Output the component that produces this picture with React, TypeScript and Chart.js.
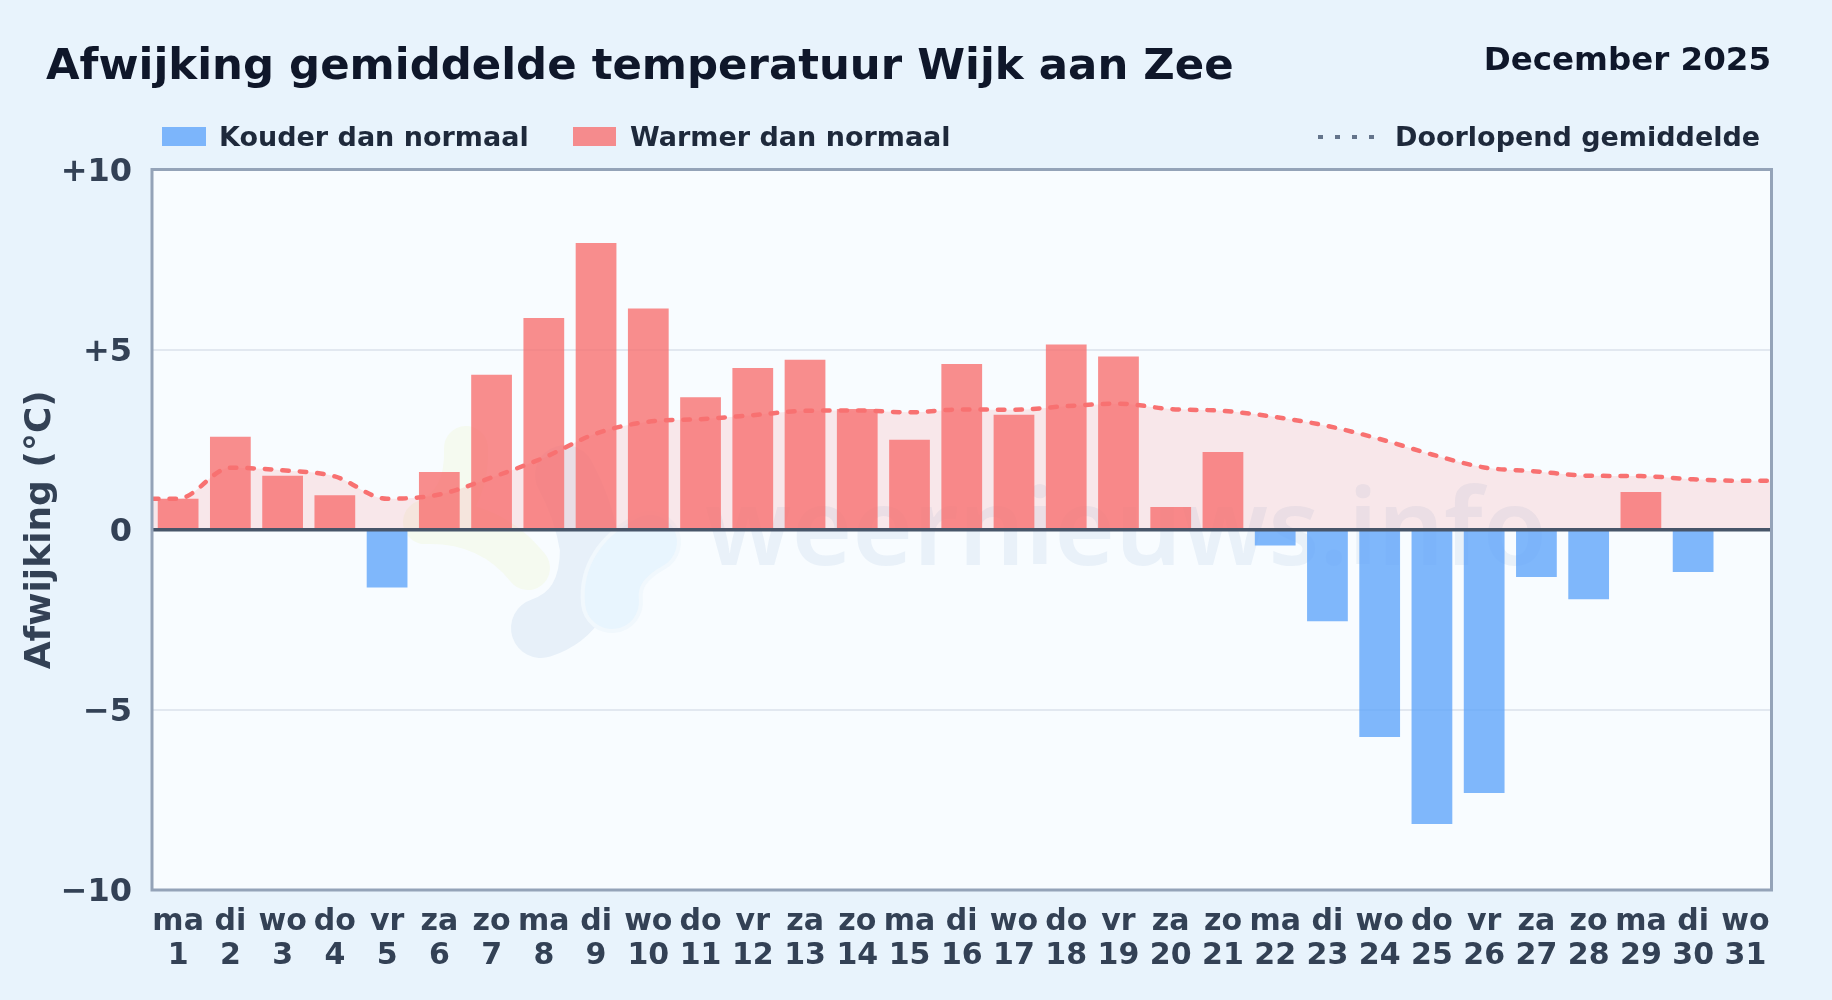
import React, { useEffect, useRef } from "react";
import { Chart, registerables } from "chart.js";

Chart.register(...registerables);

const titleText = "Afwijking gemiddelde temperatuur Wijk aan Zee";
const periodText = "December 2025";
const legendCold = "Kouder dan normaal";
const legendWarm = "Warmer dan normaal";
const legendMean = "Doorlopend gemiddelde";
const yAxisTitle = "Afwijking (°C)";
const watermark = "weernieuws.info";

const days = [1,2,3,4,5,6,7,8,9,10,11,12,13,14,15,16,17,18,19,20,21,22,23,24,25,26,27,28,29,30,31];
const weekdays = ["ma","di","wo","do","vr","za","zo","ma","di","wo","do","vr","za","zo","ma","di","wo","do","vr","za","zo","ma","di","wo","do","vr","za","zo","ma","di","wo"];
const deviations = [0.86,2.58,1.5,0.96,-1.6,1.6,4.3,5.88,7.96,6.14,3.68,4.49,4.72,3.35,2.5,4.6,3.19,5.14,4.81,0.63,2.16,-0.44,-2.54,-5.75,-8.17,-7.31,-1.31,-1.93,1.05,-1.17,null];
const meanDays = [0.5,1,2,3,4,5,6,7,8,9,10,11,12,13,14,15,16,17,18,19,20,21,22,23,24,25,26,27,28,29,30,31,31.5];
const runningMean = [0.86,0.86,1.72,1.65,1.48,0.86,0.98,1.45,2.0,2.67,3.0,3.07,3.18,3.3,3.31,3.26,3.34,3.33,3.43,3.5,3.35,3.3,3.13,2.88,2.52,2.09,1.73,1.62,1.5,1.49,1.4,1.36,1.36];
const yTicks = [-10,-5,0,5,10];
const yTickLabels = ["\u221210","\u22125","0","+5","+10"];

const FONT = "'DejaVu Sans', sans-serif";
const COLD = "rgba(96,165,250,0.8)";
const WARM = "rgba(248,113,113,0.8)";
const MEAN = "#f87171";
const MEAN_FILL = "rgba(248,113,113,0.15)";
const PAGE = "#e8f3fc";
const PLOT = "#f8fcff";
const FRAME = "#94a3b8";
const ZERO = "#475569";
const TICK = "#334155";

const plotFrame = {
  id: "plotFrame",
  beforeDraw(chart: any) {
    const { ctx, chartArea: a } = chart;
    ctx.save();
    ctx.fillStyle = PLOT;
    ctx.fillRect(a.left, a.top, a.width, a.height);
    ctx.lineCap = "round";
    ctx.lineJoin = "round";
    ctx.strokeStyle = "#f5faf0";
    ctx.lineWidth = 44;
    ctx.beginPath();
    ctx.moveTo(466, 448);
    ctx.quadraticCurveTo(468, 505, 425, 522);
    ctx.quadraticCurveTo(490, 520, 528, 568);
    ctx.stroke();
    ctx.strokeStyle = PLOT;
    ctx.lineWidth = 68;
    ctx.beginPath();
    ctx.moveTo(541, 628);
    ctx.quadraticCurveTo(592, 612, 592, 548);
    ctx.stroke();
    ctx.strokeStyle = "#e7f0f9";
    ctx.lineWidth = 60;
    ctx.beginPath();
    ctx.moveTo(541, 628);
    ctx.quadraticCurveTo(590, 612, 590, 548);
    ctx.quadraticCurveTo(584, 510, 565, 475);
    ctx.stroke();
    ctx.strokeStyle = "#f1f8fd";
    ctx.lineWidth = 62;
    ctx.beginPath();
    ctx.moveTo(612, 602);
    ctx.quadraticCurveTo(608, 565, 650, 542);
    ctx.stroke();
    ctx.strokeStyle = "#e8f5fe";
    ctx.lineWidth = 54;
    ctx.beginPath();
    ctx.moveTo(612, 602);
    ctx.quadraticCurveTo(608, 565, 650, 542);
    ctx.stroke();
    ctx.fillStyle = "rgba(50,110,180,0.075)";
    ctx.font = `600 106px 'Noto Sans', ${FONT}`;
    ctx.textBaseline = "alphabetic";
    ctx.textAlign = "left";
    ctx.fillText(watermark, 705, 565, 842);
    ctx.restore();
  },
  afterDatasetsDraw(chart: any) {
    const { ctx, chartArea: a, scales } = chart;
    const y0 = scales.y.getPixelForValue(0);
    ctx.save();
    ctx.strokeStyle = ZERO;
    ctx.lineWidth = 3.5;
    ctx.beginPath();
    ctx.moveTo(a.left, y0);
    ctx.lineTo(a.right, y0);
    ctx.stroke();
    ctx.strokeStyle = FRAME;
    ctx.lineWidth = 3;
    ctx.strokeRect(a.left, a.top, a.width, a.height);
    ctx.restore();
  },
};

function Label({ text, x, right, baseline, size, color }: any) {
  const style: React.CSSProperties = {
    position: "absolute",
    top: baseline - 0.846 * size,
    fontFamily: FONT,
    fontWeight: 700,
    fontSize: size,
    lineHeight: 1,
    color,
    whiteSpace: "nowrap",
  };
  if (x !== undefined) style.left = x;
  if (right !== undefined) style.right = 1832 - right;
  return <div style={style}>{text}</div>;
}

function Box({ x, y, w, h, color }: any) {
  return <div style={{ position: "absolute", left: x, top: y, width: w, height: h, background: color }} />;
}

export default function App() {
  const ref = useRef<HTMLCanvasElement>(null);
  useEffect(() => {
    document.body.style.margin = "0";
    document.body.style.background = PAGE;
    const chart = new Chart(ref.current as HTMLCanvasElement, {
      type: "bar",
      data: {
        datasets: [
          {
            type: "line",
            label: legendMean,
            data: meanDays.map((d, i) => ({ x: d, y: runningMean[i] })),
            borderColor: MEAN,
            borderWidth: 4.5,
            borderDash: [6.5, 11],
            borderCapStyle: "round",
            backgroundColor: MEAN_FILL,
            fill: { value: 0 },
            pointRadius: 0,
            cubicInterpolationMode: "monotone",
            order: 0,
          },
          {
            type: "bar",
            label: legendWarm + " / " + legendCold,
            data: days.map((d, i) => ({ x: d, y: deviations[i] })),
            backgroundColor: (c: any) => ((c.raw?.y ?? 0) < 0 ? COLD : WARM),
            barPercentage: 0.78,
            categoryPercentage: 1,
            order: 1,
          },
        ],
      } as any,
      options: {
        animation: false,
        responsive: false,
        devicePixelRatio: 1,
        layout: { padding: { left: 0, top: 169.5, right: 60.5, bottom: 0 } },
        plugins: {
          legend: { display: false },
          title: { display: false },
          tooltip: { enabled: false },
          filler: { drawTime: "beforeDatasetsDraw" },
        } as any,
        scales: {
          x: {
            type: "linear",
            min: 0.5,
            max: 31.5,
            offset: false,
            bounds: "data",
            grid: { display: false, drawTicks: false, offset: false },
            border: { display: false },
            afterBuildTicks: (s: any) => {
              s.ticks = days.map((d) => ({ value: d }));
            },
            afterFit: (s: any) => {
              s.height = 110;
            },
            ticks: {
              autoSkip: false,
              maxRotation: 0,
              minRotation: 0,
              padding: 15,
              color: TICK,
              font: { family: FONT, weight: "bold", size: 30, lineHeight: 1.14 },
              callback: (v: any) => [weekdays[v - 1], String(v)],
            },
          },
          y: {
            min: -10,
            max: 10,
            grid: { color: "#e2e8f0", lineWidth: 2, drawTicks: false },
            border: { display: false },
            afterBuildTicks: (s: any) => {
              s.ticks = yTicks.map((v) => ({ value: v }));
            },
            afterFit: (s: any) => {
              s.width = 152;
            },
            ticks: {
              padding: 20,
              labelOffset: 3,
              color: TICK,
              font: { family: FONT, weight: "bold", size: 32 },
              callback: (v: any) => yTickLabels[yTicks.indexOf(v)],
            },
            title: {
              display: true,
              text: yAxisTitle,
              color: TICK,
              font: { family: FONT, weight: "bold", size: 36 },
              padding: { top: 19, bottom: 0 },
            },
          },
        },
      } as any,
      plugins: [plotFrame],
    } as any);
    return () => chart.destroy();
  }, []);

  return (
    <div style={{ position: "relative", width: 1832, height: 1000, overflow: "hidden", background: PAGE }}>
      <canvas ref={ref} width={1832} height={1000} style={{ position: "absolute", left: 0, top: 0, width: 1832, height: 1000 }} />
      <Label text={titleText} x={46} baseline={80} size={43.4} color="#0f172a" />
      <Label text={periodText} right={1771} baseline={70} size={32.5} color="#0f172a" />
      <Box x={162} y={127} w={44} h={19} color={COLD} />
      <Label text={legendCold} x={219} baseline={146} size={27} color="#1e293b" />
      <Box x={573} y={127} w={43} h={19} color={WARM} />
      <Label text={legendWarm} x={630} baseline={146} size={27} color="#1e293b" />
      <Box x={1318} y={135} w={5} h={4} color="#64748b" />
      <Box x={1335} y={135} w={5} h={4} color="#64748b" />
      <Box x={1352} y={135} w={5} h={4} color="#64748b" />
      <Box x={1369} y={135} w={5} h={4} color="#64748b" />
      <Label text={legendMean} x={1395} baseline={146} size={27} color="#1e293b" />
    </div>
  );
}
